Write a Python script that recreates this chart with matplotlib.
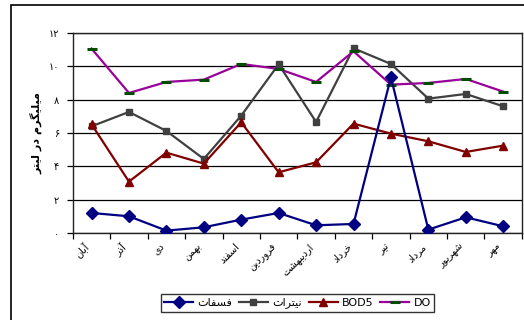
import matplotlib
matplotlib.use("Agg")
import matplotlib.pyplot as plt
import matplotlib.patches as mpatches


#Data
MONTHS = ["آبان", "آذر", "دی", "بهمن", "اسفند", "فروردین", "اردیبهشت",
          "خرداد", "تیر", "مرداد", "شهریور", "مهر"]

phosphate = [1.2, 1.0, 0.14, 0.34, 0.8, 1.2, 0.46, 0.54, 9.34, 0.2, 0.94, 0.4]
nitrate   = [6.4, 7.26, 6.12, 4.44, 7.04, 10.12, 6.66, 11.08, 10.14, 8.06, 8.34, 7.6]
bod5      = [6.52, 3.08, 4.82, 4.16, 6.64, 3.64, 4.24, 6.56, 5.96, 5.5, 4.86, 5.24]
do        = [11.06, 8.4, 9.06, 9.2, 10.14, 9.84, 9.06, 10.9, 8.9, 9.0, 9.24, 8.48]

SERIES_NAMES = ["فسفات", "نیترات", "BOD5", "DO"]
Y_LABEL = "میلیگرم در لیتر"
Y_TICKS = [0, 2, 4, 6, 8, 10, 12]


#matplotlib has no arabic shaping, so do it by hand (isolated, final, initial, medial)
FORMS = {
    "ا": ("\uFE8D", "\uFE8E", None, None),
    "آ": ("\uFE81", "\uFE82", None, None),
    "ب": ("\uFE8F", "\uFE90", "\uFE91", "\uFE92"),
    "ت": ("\uFE95", "\uFE96", "\uFE97", "\uFE98"),
    "خ": ("\uFEA5", "\uFEA6", "\uFEA7", "\uFEA8"),
    "د": ("\uFEA9", "\uFEAA", None, None),
    "ذ": ("\uFEAB", "\uFEAC", None, None),
    "ر": ("\uFEAD", "\uFEAE", None, None),
    "س": ("\uFEB1", "\uFEB2", "\uFEB3", "\uFEB4"),
    "ش": ("\uFEB5", "\uFEB6", "\uFEB7", "\uFEB8"),
    "ف": ("\uFED1", "\uFED2", "\uFED3", "\uFED4"),
    "ل": ("\uFEDD", "\uFEDE", "\uFEDF", "\uFEE0"),
    "م": ("\uFEE1", "\uFEE2", "\uFEE3", "\uFEE4"),
    "ن": ("\uFEE5", "\uFEE6", "\uFEE7", "\uFEE8"),
    "ه": ("\uFEE9", "\uFEEA", "\uFEEB", "\uFEEC"),
    "و": ("\uFEED", "\uFEEE", None, None),
    "ی": ("\uFBFC", "\uFBFD", "\uFBFE", "\uFBFF"),
    "گ": ("\uFB92", "\uFB93", "\uFB94", "\uFB95"),
}


def shape(text):
    out = []
    for i, ch in enumerate(text):
        if ch not in FORMS:
            out.append(ch)
            continue
        prev = text[i - 1] if i > 0 else ""
        nxt = text[i + 1] if i + 1 < len(text) else ""
        joins_prev = prev in FORMS and FORMS[prev][2] is not None
        joins_next = nxt in FORMS and FORMS[ch][2] is not None
        iso, fin, ini, med = FORMS[ch]
        if joins_prev and joins_next:
            out.append(med)
        elif joins_prev:
            out.append(fin)
        elif joins_next:
            out.append(ini)
        else:
            out.append(iso)
    return "".join(reversed(out))


def persian_digits(n):
    return "".join(chr(0x06F0 + int(d)) for d in str(n))


plt.rcParams["font.family"] = ["DejaVu Sans"]

fig = plt.figure(figsize=(5.24, 3.2), dpi=100)
ax = fig.add_axes([0.139, 0.272, 0.857, 0.625])

x = [i + 0.5 for i in range(len(MONTHS))]

ax.plot(x, phosphate, color="#000080", lw=1.6, marker="D", ms=6,
        label=shape(SERIES_NAMES[0]), zorder=4)
ax.plot(x, nitrate, color="#404040", lw=1.6, marker="s", ms=5,
        label=shape(SERIES_NAMES[1]), zorder=3)
ax.plot(x, bod5, color="#800000", lw=1.6, marker="^", ms=6,
        label=SERIES_NAMES[2], zorder=3)
ax.plot(x, do, color="#990099", lw=1.6, marker="_", ms=7, mew=2.2,
        mec="#004d00", label=SERIES_NAMES[3], zorder=3)

ax.set_xlim(0, 12)
ax.set_ylim(0, 12)
ax.set_yticks(Y_TICKS)
ax.set_yticklabels([persian_digits(v) for v in Y_TICKS], fontsize=7)
ax.yaxis.grid(True, color="black", lw=0.9)
ax.set_axisbelow(True)

ax.set_xticks(range(13))
ax.set_xticklabels([])
ax.set_xticks(x, minor=True)
ax.set_xticklabels([shape(m) for m in MONTHS], minor=True, rotation=45,
                   ha="right", va="top", fontsize=7)
ax.tick_params(axis="x", which="minor", length=0, pad=6)
ax.tick_params(axis="x", which="major", length=4, width=0.9)
ax.tick_params(axis="y", length=4, width=0.9, pad=6)
for sp in ax.spines.values():
    sp.set_linewidth(1.0)
    sp.set_color("#222222")

ax.set_ylabel(shape(Y_LABEL), fontsize=8, fontweight="bold", labelpad=4)

leg = fig.legend(loc="center", bbox_to_anchor=(297.5 / 524, 1 - 303 / 320),
                 ncol=4, fontsize=8, frameon=True, fancybox=False,
                 edgecolor="black", handlelength=2.6, columnspacing=0.6,
                 handletextpad=0.4, borderpad=0.3)
leg.get_frame().set_linewidth(1.0)

# outer chart border (right and bottom edges run off the picture)
fig.patches.append(mpatches.Rectangle((11 / 524, -0.1), 1.2, 1 - 5 / 320 + 0.1,
                                      transform=fig.transFigure, fill=False,
                                      edgecolor="black", lw=1.2))

fig.savefig("out.png", dpi=100)
